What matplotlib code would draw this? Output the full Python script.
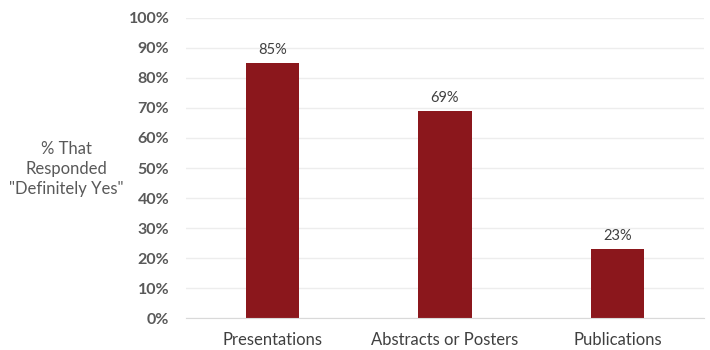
import matplotlib
matplotlib.use("Agg")
import matplotlib.pyplot as plt
import numpy as np

plt.rcParams['font.family'] = ['Lato', 'DejaVu Sans']

categories = ["Presentations", "Abstracts or Posters", "Publications"]
values = [85, 69, 23]
yticks = [0, 10, 20, 30, 40, 50, 60, 70, 80, 90, 100]

bar_color = "#8B171C"
grey = "#595959"

fig = plt.figure(figsize=(7.1, 3.5), dpi=100)
ax = fig.add_axes([0.262, 0.0914, 0.7295, 0.8572])

x = np.arange(len(categories))
ax.bar(x, values, width=0.31, color=bar_color, zorder=3)

for xi, v in zip(x, values):
    ax.text(xi, v + 2, f"{v}%", ha="center", va="bottom", fontsize=10.5, color="#404040")

ax.set_xlim(-0.5, len(categories) - 0.5)
ax.set_ylim(0, 100)
ax.set_yticks(yticks)
ax.set_yticklabels([f"{t}%" for t in yticks], fontsize=11.5, fontweight="bold", color=grey)
ax.set_xticks(x)
ax.set_xticklabels(categories, fontsize=12, color="#404040")
ax.tick_params(axis="both", length=0)
ax.tick_params(axis="y", pad=12)
ax.tick_params(axis="x", pad=10)

ax.grid(axis="y", color="#EDEDED", linewidth=1, zorder=0)
for s in ["top", "right", "left"]:
    ax.spines[s].set_visible(False)
ax.spines["bottom"].set_color("#D9D9D9")
ax.spines["bottom"].set_zorder(4)

fig.text(66 / 710, 1 - 169 / 350, '% That\nResponded\n"Definitely Yes"', ha="center", va="center",
         fontsize=12, color=grey, linespacing=1.3)

fig.savefig("out.png", dpi=100)
